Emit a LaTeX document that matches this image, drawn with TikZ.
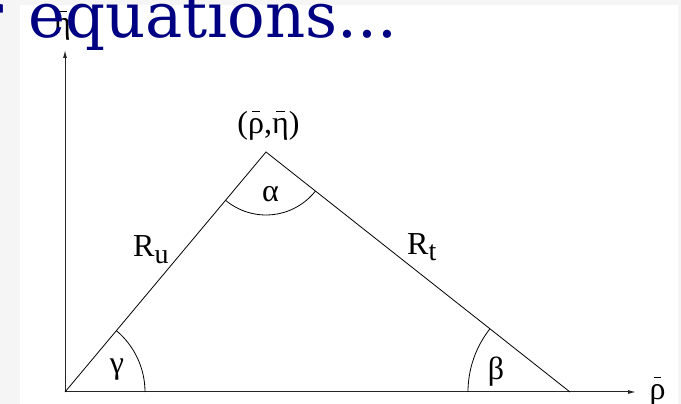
\documentclass[tikz,border=0pt]{standalone}
\usepackage{fontspec}
\setmainfont{Liberation Serif}
\newfontfamily\slidefont{DejaVu Serif}
\usetikzlibrary{arrows.meta,angles}
\definecolor{slidebg}{RGB}{245,245,245}
\definecolor{titleblue}{RGB}{0,0,130}
%% short bar over a symbol
\newcommand{\barsym}[1]{\setbox0=\hbox{#1}\hbox{\rlap{\hbox to \wd0{\hss\raisebox{0.68em}{\rule{0.5\wd0}{0.8pt}}\hss}}\box0}}
\tikzset{
  %% triangle sides
  side/.style={line width=0.8pt,color=black},
  %% axes
  axarr/.style={-{Latex[length=8pt,width=4pt]},line width=1pt,color=black!85},
  %% angle arcs
  angarc/.style={draw,line width=0.8pt},
  lbl/.style={font=\fontsize{32}{34}\selectfont,inner sep=0pt},
  sublbl/.style={font=\fontsize{32}{34}\selectfont,inner sep=0pt},
  ttl/.style={font=\slidefont\fontsize{62.5}{66}\selectfont,text=titleblue,inner sep=0pt},
}
\begin{document}
\begin{tikzpicture}[x=1pt,y=1pt]
  %% slide background and picture area
  \fill[slidebg] (0,0) rectangle (681,404);
  \fill[white] (20,0) rectangle (678,399);
  \useasboundingbox (0,0) rectangle (681,404);

  \coordinate (O) at (65,12);
  \coordinate (A) at (266,252);
  \coordinate (B) at (570,12);
  \coordinate (ytip) at (65,354);
  \coordinate (xtip) at (636,12);

  \draw[axarr] (O) -- (ytip);
  \draw[axarr] (O) -- (xtip);
  \draw[side] (O) -- (A) -- (B);

  \pic[angarc,angle radius=80pt] {angle=B--O--A};
  \pic[angarc,angle radius=63pt] {angle=O--A--B};
  \pic[angarc,angle radius=102pt] {angle=A--B--O};

  \node[lbl] (gam) at (117,34) {γ};
  \node[lbl] (alp) at (270.5,210) {α};
  \node[lbl] (bet) at (496,32) {β};
  \node[sublbl,anchor=base west] (ru) at (133,147) {R\raisebox{-7pt}{\fontsize{28}{30}\selectfont u}};
  \node[sublbl,anchor=base west] (rt) at (407,149) {R\raisebox{-6pt}{\fontsize{28}{30}\selectfont t}};
  \node[lbl] (apex) at (268.5,278) {(\barsym{ρ},\barsym{η})};
  \node[lbl] (etaax) at (62.5,378) {\barsym{η}};
  \node[lbl,anchor=base] (rhoax) at (657.5,4) {\barsym{ρ}};

  \node[ttl,anchor=base west] (title) at (28,366) {\llap{r\hspace{0.4em}}equations...};
\end{tikzpicture}
\end{document}
